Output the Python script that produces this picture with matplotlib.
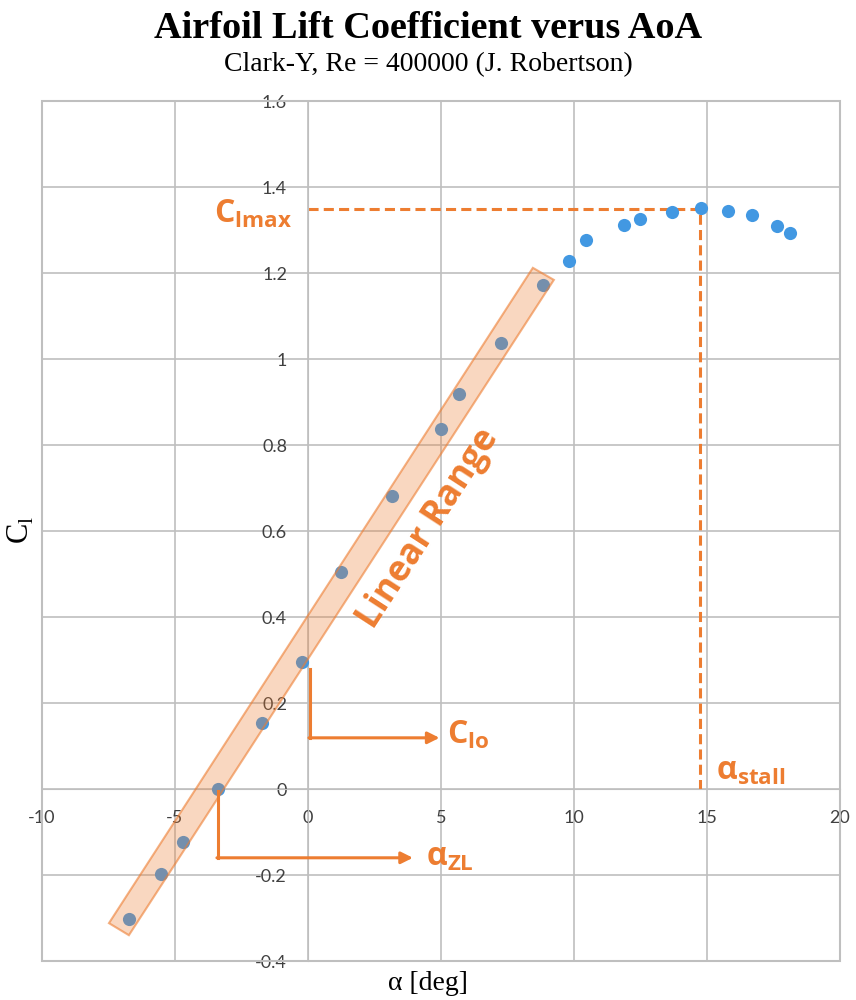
import matplotlib.pyplot as plt
from matplotlib.patches import Polygon, Rectangle

# data
aoa_linear = [-6.73, -5.53, -4.70, -3.38, -1.73, -0.23, 1.24, 3.16, 5.00, 5.68, 7.26, 8.83]
cl_linear = [-0.302, -0.198, -0.123, 0.0, 0.153, 0.295, 0.505, 0.681, 0.837, 0.919, 1.037, 1.172]
aoa_stall = [9.81, 10.45, 11.88, 12.48, 13.68, 14.77, 15.79, 16.69, 17.63, 18.12]
cl_stall = [1.228, 1.277, 1.312, 1.326, 1.342, 1.351, 1.344, 1.335, 1.309, 1.293]

cl_max = 1.35
alpha_stall = 14.75
alpha_zl = -3.38
cl_0 = 0.29

xticks = [-10, -5, 0, 5, 10, 15, 20]
yticks = [-0.4, -0.2, 0, 0.2, 0.4, 0.6, 0.8, 1, 1.2, 1.4, 1.6]
ytick_labels = ['-0.4', '-0.2', '0', '0.2', '0.4', '0.6', '0.8', '1', '1.2', '1.4', '1.6']

orange = '#ED7D31'
blue = '#4298E2'
grid_c = '#BFBFBF'

plt.rcParams['mathtext.fontset'] = 'custom'
plt.rcParams['mathtext.rm'] = 'Open Sans:bold'
plt.rcParams['mathtext.sf'] = 'Liberation Serif'

fig = plt.figure(figsize=(8.56, 10), dpi=100)
ax = fig.add_axes([0.049, 0.039, 0.932, 0.86])

ax.scatter(aoa_linear + aoa_stall, cl_linear + cl_stall, s=90, color=blue, zorder=3, linewidths=0)

ax.set_xlim(-10, 20)
ax.set_ylim(-0.4, 1.6)
ax.set_xticks(xticks)
ax.set_yticks(yticks)
ax.set_xticklabels([str(t) for t in xticks])
ax.set_yticklabels(ytick_labels)
ax.grid(True, color=grid_c, linewidth=1.2)
ax.set_axisbelow(True)

for s in ['top', 'right']:
    ax.spines[s].set_visible(False)
ax.spines['left'].set_position(('data', 0))
ax.spines['bottom'].set_position(('data', 0))
ax.spines['left'].set_color(grid_c)
ax.spines['bottom'].set_color(grid_c)
ax.tick_params(length=0, labelsize=13, labelcolor='#404040')
ax.tick_params(axis='x', pad=15)
ax.tick_params(axis='y', pad=15)
for lab in ax.get_xticklabels() + ax.get_yticklabels():
    lab.set_fontfamily('Lato')
ax.add_patch(Rectangle((0, 0), 1, 1, transform=ax.transAxes, fill=False,
                       edgecolor=grid_c, linewidth=1.5, clip_on=False))

# linear range band
band = [(-7.48, -0.312), (-6.73, -0.340), (9.25, 1.184), (8.46, 1.212)]
ax.add_patch(Polygon(band, closed=True, facecolor=orange, alpha=0.3, edgecolor='none', zorder=4))
ax.add_patch(Polygon(band, closed=True, fill=False, edgecolor=orange, alpha=0.6, linewidth=1.5, zorder=4))
ax.text(4.55, 0.605, 'Linear Range', rotation=57, color=orange, fontsize=25.5,
        fontfamily='Open Sans', fontweight='bold', ha='center', va='center',
        rotation_mode='anchor', zorder=5)

# Cl max / stall dashed lines
ax.plot([0, alpha_stall, alpha_stall], [cl_max, cl_max, 0], color=orange,
        linewidth=2.2, dashes=(3.3, 1.7), zorder=2)
ax.text(-0.6, cl_max - 0.012, r'$\mathrm{C}_{\mathrm{lmax}}$', color=orange, fontsize=23,
        ha='right', va='center')
ax.text(15.35, 0.005, r'$\mathrm{α}_{\mathrm{stall}}$', color=orange, fontsize=23,
        ha='left', va='bottom')

# Cl0 arrow
ax.plot([0.08, 0.08], [cl_0 - 0.01, 0.119], color=orange, linewidth=2.2, zorder=4)
ax.annotate('', xy=(4.95, 0.119), xytext=(0.04, 0.119),
            arrowprops=dict(arrowstyle='-|>,head_length=0.7,head_width=0.35',
                            color=orange, linewidth=2.2, shrinkA=0, shrinkB=0), zorder=4)
ax.text(5.25, 0.125, r'$\mathrm{C}_{\mathrm{lo}}$', color=orange, fontsize=23,
        ha='left', va='center')

# alpha zero-lift arrow
ax.plot([alpha_zl, alpha_zl], [-0.005, -0.16], color=orange, linewidth=2.2, zorder=4)
ax.annotate('', xy=(3.95, -0.16), xytext=(alpha_zl - 0.04, -0.16),
            arrowprops=dict(arrowstyle='-|>,head_length=0.7,head_width=0.35',
                            color=orange, linewidth=2.2, shrinkA=0, shrinkB=0), zorder=4)
ax.text(4.45, -0.16, r'$\mathrm{α}_{\mathrm{ZL}}$', color=orange, fontsize=23,
        ha='left', va='center')

# titles and axis labels
fig.text(0.5, 0.972, 'Airfoil Lift Coefficient verus AoA', ha='center', va='center',
         fontfamily='Liberation Serif', fontweight='bold', fontsize=27.5)
fig.text(0.5, 0.935, 'Clark-Y, Re = 400000 (J. Robertson)', ha='center', va='center',
         fontfamily='Liberation Serif', fontsize=20)
fig.text(0.5, 0.016, 'α [deg]', ha='center', va='center',
         fontfamily='Liberation Serif', fontsize=20)
fig.text(0.024, 0.47, r'$\mathsf{C}_\mathsf{l}$', ha='center', va='center', rotation=90,
         fontsize=22)

fig.savefig('out.png', dpi=100)
